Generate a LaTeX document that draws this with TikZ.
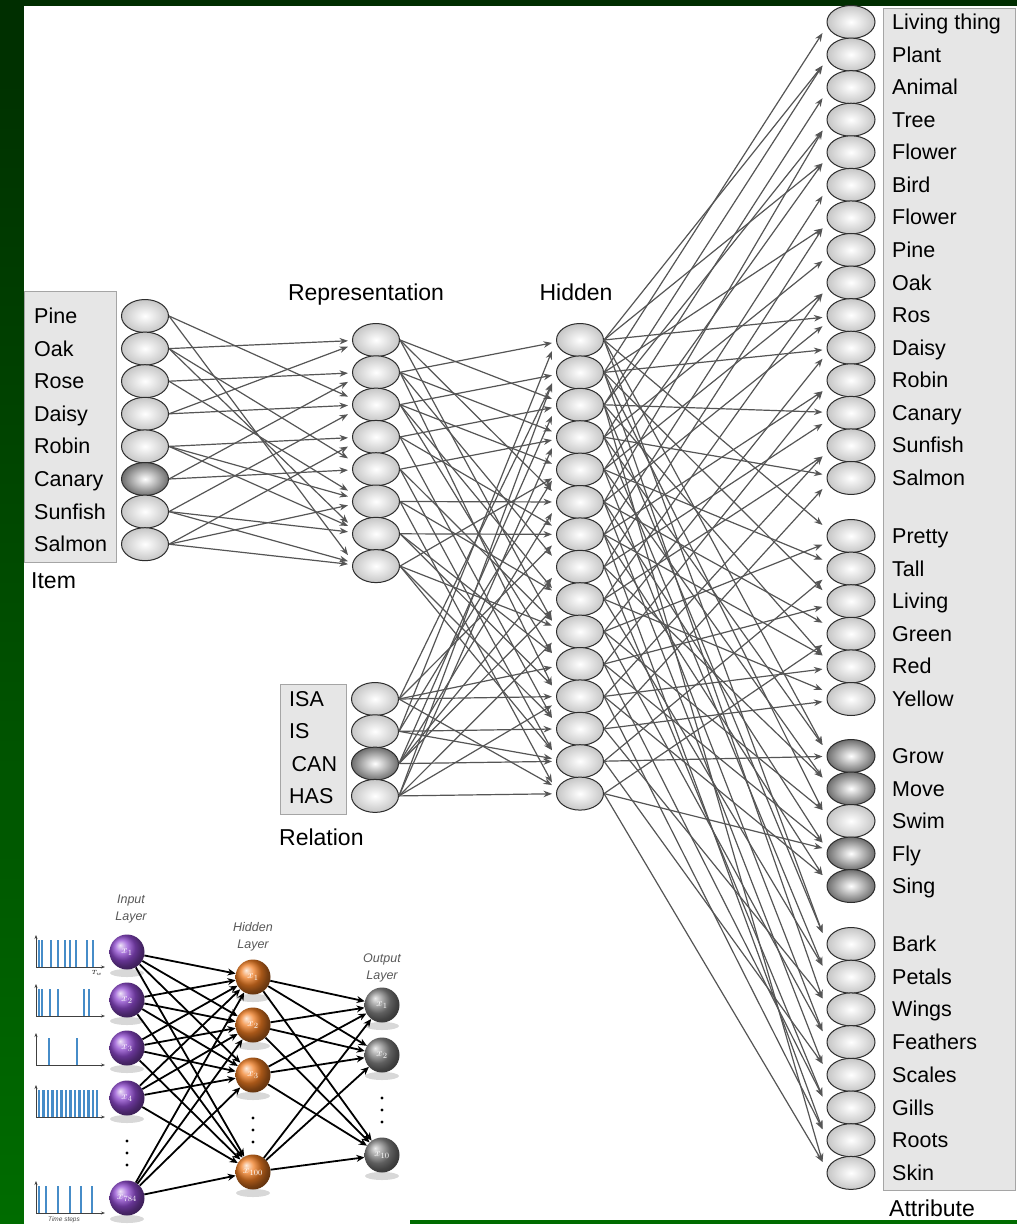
\documentclass[tikz,border=0pt]{standalone}
\usepackage{fontspec}
\setmainfont{Liberation Sans}
\usetikzlibrary{shapes.geometric,arrows.meta,calc}

\definecolor{bgtop}{RGB}{0,46,0}
\definecolor{bgbottom}{RGB}{0,108,0}
\definecolor{unitline}{RGB}{45,45,45}
\definecolor{unitlight}{RGB}{198,198,198}
\definecolor{unitdark}{RGB}{110,110,110}
\definecolor{linkgray}{RGB}{85,85,85}
\definecolor{boxfill}{RGB}{230,230,230}
\definecolor{boxline}{RGB}{165,165,165}
\definecolor{spike}{RGB}{70,140,200}
\definecolor{inpurple}{RGB}{145,75,210}
\definecolor{hidorange}{RGB}{240,125,35}
\definecolor{outgray}{RGB}{135,135,135}

% an arrow from the east side of #1 to just left of #2, tip shifted
% a little towards the side the arrow comes from
\newcommand{\linkto}[2]{%
  \draw[link] let \p1=(#1.east), \p2=(#2.west),
    \n1={max(-11,min(11,0.09*(\y1-\y2)))} in
    (\p1) -- ({\x2-4pt},{\y2+\n1});}

\begin{document}
\begin{tikzpicture}[x=1pt,y=-1pt,
  unit/.style={ellipse, draw=unitline, line width=1pt, minimum width=47pt,
    minimum height=33pt, inner sep=0pt, inner color=white, outer color=unitlight},
  unitdark/.style={unit, outer color=unitdark},
  link/.style={draw=linkgray, line width=1.2pt, -{Stealth[length=8.5pt,width=6.5pt]}},
  lbl/.style={anchor=base west, inner sep=0pt, font=\fontsize{21.5}{24}\selectfont},
  head/.style={anchor=base west, inner sep=0pt, font=\fontsize{23}{26}\selectfont},
  labelbox/.style={fill=boxfill, draw=boxline, line width=1pt},
  ballnode/.style={circle, minimum size=35pt, inner sep=0pt, text=white,
    font=\fontsize{11}{12}\selectfont},
  netlink/.style={draw=black, line width=1.8pt, -{Stealth[length=8pt,width=7pt]}},
  layername/.style={inner sep=0pt, align=center, text=black!65,
    font=\itshape\fontsize{12.5}{17}\selectfont},
  spikebar/.style={draw=spike, line width=2.2pt},
  axis/.style={draw=black!75, line width=0.8pt, -{Stealth[length=4pt,width=3pt]}}
]
\useasboundingbox (0,0) rectangle (1017,1224);

% slide background and white page
\shade[top color=bgtop, bottom color=bgbottom] (0,0) rectangle (1017,1224);
\fill[white] (24,6) rectangle (1017,1220);
\fill[white] (24,880) rectangle (410,1224);

% ---------------- label boxes ----------------
\draw[labelbox] (24,291) rectangle (116,562);
\draw[labelbox] (280,684) rectangle (346,814);
\draw[labelbox] (883,8) rectangle (1015,1190);

% ---------------- item layer ----------------
\node[unit]     (i1) at (145,316) {};
\node[unit]     (i2) at (145,348.6) {};
\node[unit]     (i3) at (145,381.2) {};
\node[unit]     (i4) at (145,413.8) {};
\node[unit]     (i5) at (145,446.4) {};
\node[unitdark] (i6) at (145,479) {};
\node[unit]     (i7) at (145,511.6) {};
\node[unit]     (i8) at (145,544.2) {};

\node[lbl] (li1) at (34,323.5) {Pine};
\node[lbl] (li2) at (34,356.1) {Oak};
\node[lbl] (li3) at (34,388.7) {Rose};
\node[lbl] (li4) at (34,421.3) {Daisy};
\node[lbl] (li5) at (34,453.9) {Robin};
\node[lbl] (li6) at (34,486.5) {Canary};
\node[lbl] (li7) at (34,519.1) {Sunfish};
\node[lbl] (li8) at (34,551.7) {Salmon};
\node[head] (hitem) at (31,588) {Item};

% ---------------- representation layer ----------------
\foreach \k in {1,...,8}
  \node[unit] (r\k) at (376,{340+32.3*(\k-1)}) {};
\node[head, anchor=base] (hrep) at (366,300) {Representation};

% ---------------- relation layer ----------------
\node[unit]     (q1) at (375,699) {};
\node[unit]     (q2) at (375,731.3) {};
\node[unitdark] (q3) at (375,763.6) {};
\node[unit]     (q4) at (375,795.9) {};
\node[lbl] (lq1) at (289,706.5) {ISA};
\node[lbl] (lq2) at (289,738.8) {IS};
\node[lbl] (lq3) at (291.5,771.1) {CAN};
\node[lbl] (lq4) at (289,803.4) {HAS};
\node[head] (hrel) at (279,845) {Relation};

% ---------------- hidden layer ----------------
\foreach \k in {1,...,15}
  \node[unit] (h\k) at (580,{340+32.4*(\k-1)}) {};
\node[head, anchor=base] (hhid) at (576,300) {Hidden};

% ---------------- attribute layer ----------------
\foreach \n/\txt [count=\k] in {0/Living thing,1/Plant,2/Animal,3/Tree,4/Flower,
    5/Bird,6/Flower,7/Pine,8/Oak,9/Ros,10/Daisy,11/Robin,12/Canary,13/Sunfish,14/Salmon}{
  \node[unit, minimum width=48pt] (a\k) at (851,{22+32.57*\n}) {};
  \node[lbl] (la\k) at (892,{29.5+32.57*\n}) {\txt};
}
\foreach \n/\txt [count=\j from 16] in {0/Pretty,1/Tall,2/Living,3/Green,4/Red,5/Yellow}{
  \node[unit, minimum width=48pt] (a\j) at (851,{536+32.6*\n}) {};
  \node[lbl] (la\j) at (892,{543.5+32.6*\n}) {\txt};
}
\foreach \n/\txt/\sty [count=\j from 22] in {0/Grow/unitdark,1/Move/unitdark,2/Swim/unit,
    3/Fly/unitdark,4/Sing/unitdark}{
  \node[\sty, minimum width=48pt] (a\j) at (851,{756+32.5*\n}) {};
  \node[lbl] (la\j) at (892,{763.5+32.5*\n}) {\txt};
}
\foreach \n/\txt [count=\j from 27] in {0/Bark,1/Petals,2/Wings,3/Feathers,4/Scales,
    5/Gills,6/Roots,7/Skin}{
  \node[unit, minimum width=48pt] (a\j) at (851,{944+32.7*\n}) {};
  \node[lbl] (la\j) at (892,{951.5+32.7*\n}) {\txt};
}
\node[head] (hatt) at (889,1216) {Attribute};

% ---------------- connections ----------------
% item -> representation
\foreach \s/\t in {1/3,1/8,2/1,2/5,2/7,3/2,3/6,4/3,4/1,5/4,5/7,5/6,
                   6/5,6/2,7/7,7/3,7/8,8/8,8/4,8/6}
  {\linkto{i\s}{r\t}}

% representation -> hidden
\foreach \s/\t in {1/3,1/6,1/10,2/1,2/4,2/8,2/12,3/2,3/5,3/9,3/11,
                   4/3,4/7,4/13,5/4,5/10,5/14,6/6,6/9,6/15,7/7,7/11,7/12,
                   8/5,8/13,8/14,8/10}
  {\linkto{r\s}{h\t}}

% relation -> hidden
\foreach \s/\t in {1/2,1/7,1/11,1/12,1/15,2/1,2/5,2/13,2/14,
                   3/3,3/8,3/9,3/14,3/6,4/4,4/2,4/15,4/10,4/12}
  {\linkto{q\s}{h\t}}

% hidden -> attribute
\foreach \t/\s in {1/2,2/1,2/3,3/4,4/3,4/6,5/1,5/5,6/7,7/2,7/8,8/4,9/5,9/9,
                   10/1,10/6,11/2,11/10,12/7,12/11,13/3,13/8,14/9,14/12,15/4,15/13,
                   16/1,16/10,17/5,17/14,18/2,18/11,19/6,19/15,20/3,20/12,20/7,
                   21/9,21/13,22/1,22/4,22/14,23/5,23/8,24/2,24/10,25/6,25/11,25/15,
                   26/7,26/12,27/1,27/3,28/4,28/9,29/2,29/13,30/5,30/10,31/6,31/14,
                   32/8,32/11,33/7,33/12,34/3,34/15}
  {\linkto{h\s}{a\t}}

% ---------------- spiking network panel ----------------
% spike trains
\foreach \yb/\bars in {967/{39,42,51,58,65,70,76,87,93},
                       1016/{39,42,50,58,84,89},
                       1065/{49,77},
                       1117/{39,43.5,48,52.5,57,61.5,66,70.5,75,79.5,84,88.5,93,97},
                       1213/{39,46,58,70,81,92}}{
  \foreach \bx in \bars
    \draw[spikebar] (\bx,\yb) -- (\bx,\yb-27);
  \draw[axis] (36,\yb) -- (36,\yb-32);
  \draw[axis] (36,\yb) -- (105,\yb);
}
\node[inner sep=0pt, font=\fontsize{6}{7}\selectfont] (tw) at (97,973) {$T_w$};
\node[inner sep=0pt, font=\itshape\fontsize{6.5}{7}\selectfont, text=black!70] (tsteps) at (64,1220) {Time steps};

% ball shadows
\foreach \bx/\by in {127/952,127/1000,127/1048,127/1098,127/1198,
                     253/977,253/1025,253/1075,253/1172,
                     382/1005,382/1055,382/1155}
  \fill[black!25, opacity=0.6] (\bx,\by+21) ellipse (17 and 4);

% input layer
\node[ballnode, ball color=inpurple] (in1) at (127,952)  {$x_1$};
\node[ballnode, ball color=inpurple] (in2) at (127,1000) {$x_2$};
\node[ballnode, ball color=inpurple] (in3) at (127,1048) {$x_3$};
\node[ballnode, ball color=inpurple] (in4) at (127,1098) {$x_4$};
\node[ballnode, ball color=inpurple] (in5) at (127,1198) {$x_{784}$};
% hidden layer
\node[ballnode, ball color=hidorange] (hd1) at (253,977)  {$x_1$};
\node[ballnode, ball color=hidorange] (hd2) at (253,1025) {$x_2$};
\node[ballnode, ball color=hidorange] (hd3) at (253,1075) {$x_3$};
\node[ballnode, ball color=hidorange] (hd4) at (253,1172) {$x_{100}$};
% output layer
\node[ballnode, ball color=outgray] (out1) at (382,1005) {$x_1$};
\node[ballnode, ball color=outgray] (out2) at (382,1055) {$x_2$};
\node[ballnode, ball color=outgray] (out3) at (382,1155) {$x_{10}$};

\foreach \i in {1,...,5}
  \foreach \j in {1,...,4}
    \draw[netlink] (in\i) -- (hd\j);
\foreach \i in {1,...,4}
  \foreach \j in {1,...,3}
    \draw[netlink] (hd\i) -- (out\j);

% ellipsis dots
\foreach \dy in {0,12,24} {
  \fill (127,1141+\dy) circle (1.7);
  \fill (253,1118+\dy) circle (1.7);
  \fill (382,1098+\dy) circle (1.7);
}

\node[layername] (nin)  at (131,909) {Input\\Layer};
\node[layername] (nhid) at (253,937) {Hidden\\Layer};
\node[layername] (nout) at (382,968) {Output\\Layer};
\end{tikzpicture}
\end{document}
